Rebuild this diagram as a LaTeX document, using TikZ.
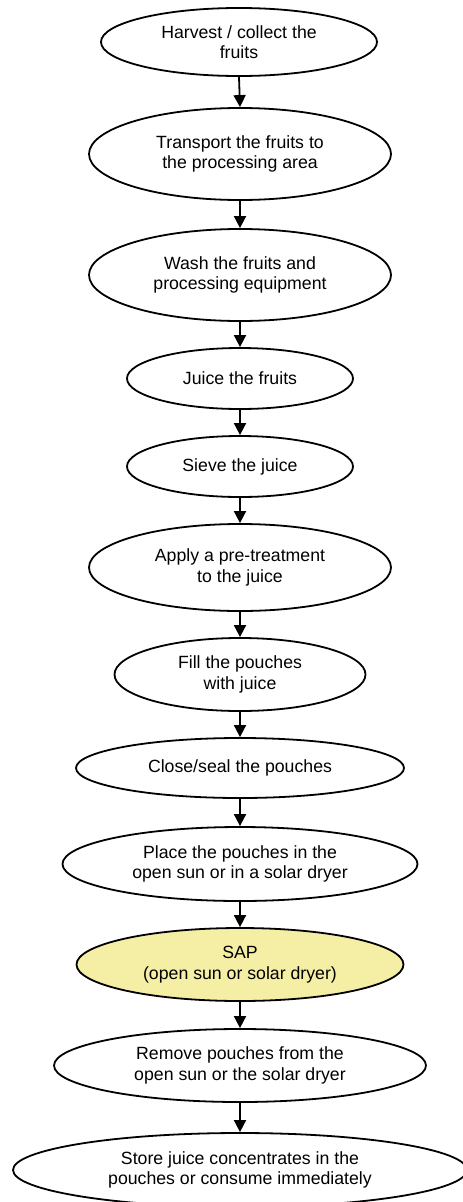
\documentclass[tikz,border=0pt]{standalone}
\usepackage{fontspec}
\setmainfont{Liberation Sans}
\usetikzlibrary{shapes.geometric,arrows.meta}
\definecolor{sapfill}{RGB}{245,238,165}
\begin{document}
\begin{tikzpicture}[x=1pt,y=-1pt,
  stage/.style={ellipse, draw, line width=1.8pt, inner sep=0pt, align=center,
    font=\fontsize{17.7}{20.5}\selectfont, fill=white},
  flow/.style={line width=1.8pt, -{Triangle[length=12pt,width=12pt]}}]
\useasboundingbox (0,0) rectangle (463,1202);
\node[stage, minimum width=276pt, minimum height=68pt] (n1) at (239,42) {Harvest / collect the\\fruits};
\node[stage, minimum width=302pt, minimum height=92pt] (n2) at (240,154) {Transport the fruits to\\the processing area};
\node[stage, minimum width=302pt, minimum height=92pt] (n3) at (240,275) {Wash the fruits and\\processing equipment};
\node[stage, minimum width=226pt, minimum height=61pt] (n4) at (240,378.5) {Juice the fruits};
\node[stage, minimum width=226pt, minimum height=61pt] (n5) at (240,466.5) {Sieve the juice};
\node[stage, minimum width=302pt, minimum height=87pt] (n6) at (240,567.5) {Apply a pre-treatment\\to the juice};
\node[stage, minimum width=251pt, minimum height=73pt] (n7) at (240,674.5) {Fill the pouches\\with juice};
\node[stage, minimum width=328pt, minimum height=60pt] (n8) at (240,768) {Close/seal the pouches};
\node[stage, minimum width=355pt, minimum height=74pt] (n9) at (240,864) {Place the pouches in the\\open sun or in a solar dryer};
\node[stage, fill=sapfill, minimum width=327pt, minimum height=73pt] (n10) at (240,964.5) {SAP\\(open sun or solar dryer)};
\node[stage, minimum width=372pt, minimum height=73pt] (n11) at (240,1065.5) {Remove pouches from the\\open sun or the solar dryer};
\node[stage, minimum width=454pt, minimum height=74pt] (n12) at (240,1170) {Store juice concentrates in the\\pouches or consume immediately};
\foreach \a/\b in {n1/n2,n2/n3,n3/n4,n4/n5,n5/n6,n6/n7,n7/n8,n8/n9,n9/n10,n10/n11,n11/n12}
  \draw[flow] (\a.south) -- (\b.north);
\end{tikzpicture}
\end{document}
